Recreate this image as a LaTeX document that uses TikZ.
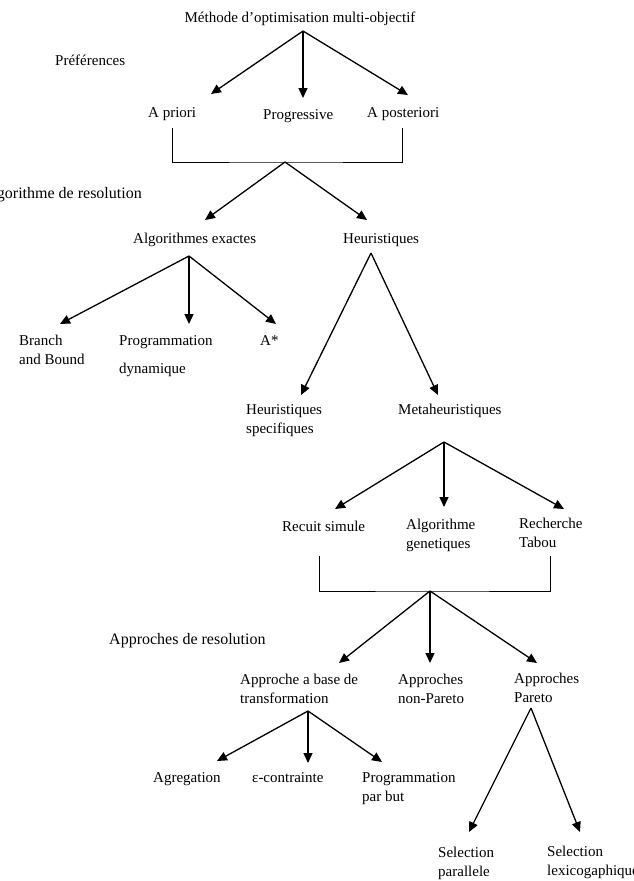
\documentclass[tikz,border=0pt]{standalone}
\usepackage{fontspec}
\setmainfont{Liberation Serif}
\usetikzlibrary{arrows.meta}
\newcommand\twoline[3][0pt]{\begin{tabular}[t]{@{}l@{}}#2\\[#1]#3\end{tabular}}
\tikzset{
  arr/.style={line width=1.3pt, -{Triangle[length=10pt,width=9pt]}},
  brk/.style={line width=0.9pt},
  lbl/.style={inner sep=0pt, anchor=base west, font=\fontsize{15}{19}\selectfont},
  big/.style={lbl, font=\fontsize{16}{20}\selectfont},
}
\begin{document}
\begin{tikzpicture}[x=1pt,y=-1pt]
\useasboundingbox (0,0) rectangle (633,881);
\fill[white] (0,0) rectangle (633,881);

% ---- labels ----
\node[lbl, anchor=base] (title) at (300,22.5) {Méthode d’optimisation multi-objectif};
\node[lbl] (pref) at (55,65) {Préférences};
\node[lbl] (apriori) at (148,117.5) {A priori};
\node[lbl] (progr) at (263,119) {Progressive};
\node[lbl] (apost) at (367,117.5) {A posteriori};
\node[big, anchor=base east] (algres) at (142,198) {Algorithme de resolution};
\node[lbl] (algex) at (133,243.5) {Algorithmes exactes};
\node[lbl] (heur) at (343,243.5) {Heuristiques};
\node[lbl] (bb) at (19,345) {\twoline{Branch}{and Bound}};
\node[lbl] (pdyn) at (119,345) {\twoline[9pt]{Programmation}{dynamique}};
\node[lbl] (astar) at (260,345) {A*};
\node[lbl] (hspec) at (246,414.5) {\twoline{Heuristiques}{specifiques}};
\node[lbl] (meta) at (398,414.5) {Metaheuristiques};
\node[lbl] (recuit) at (282,531) {Recuit simule};
\node[lbl] (genet) at (406,529.5) {\twoline{Algorithme}{genetiques}};
\node[lbl] (tabou) at (519,528.5) {\twoline{Recherche}{Tabou}};
\node[big] (appres) at (109,644.5) {Approches de resolution};
\node[lbl] (transf) at (240,684.5) {\twoline{Approche a base de}{transformation}};
\node[lbl] (nonpar) at (398,684.5) {\twoline{Approches}{non-Pareto}};
\node[lbl] (pareto) at (514,683.5) {\twoline{Approches}{Pareto}};
\node[lbl] (agreg) at (153,782.5) {Agregation};
\node[lbl] (econt) at (252,782.5) {ε-contrainte};
\node[lbl] (pbut) at (362,782.5) {\twoline{Programmation}{par but}};
\node[lbl] (selpar) at (438,857.5) {\twoline{Selection}{parallele}};
\node[lbl] (sellex) at (547,856.5) {\twoline{Selection}{lexicogaphique}};

% ---- connector points ----
\coordinate (r1) at (303,31);
\coordinate (t1a) at (211,94);
\coordinate (t1b) at (303,98);
\coordinate (t1c) at (408,95);

\coordinate (b1l) at (172,128);
\coordinate (b1j) at (285,162);
\coordinate (b1r) at (402,128);
\coordinate (t2a) at (205,220);
\coordinate (t2b) at (367,220);

\coordinate (r3) at (189,256);
\coordinate (t3a) at (60,324);
\coordinate (t3b) at (189,324);
\coordinate (t3c) at (276,324);

\coordinate (r4) at (371,253);
\coordinate (t4a) at (301,395);
\coordinate (t4b) at (438,395);

\coordinate (r5) at (444,442);
\coordinate (t5a) at (335,509);
\coordinate (t5b) at (444,507);
\coordinate (t5c) at (564,509);

\coordinate (b2l) at (319,556);
\coordinate (b2j) at (430,591);
\coordinate (b2r) at (550,556);
\coordinate (t6a) at (339,663);
\coordinate (t6b) at (430,663);
\coordinate (t6c) at (537,663);

\coordinate (r7) at (308,711);
\coordinate (t7a) at (217,761);
\coordinate (t7b) at (308,763);
\coordinate (t7c) at (382,762);

\coordinate (r8) at (531,708);
\coordinate (t8a) at (469,832);
\coordinate (t8b) at (580,832);

% ---- connectors ----
\draw[arr] (r1) -- (t1a);
\draw[arr] (r1) -- (t1b);
\draw[arr] (r1) -- (t1c);
\draw[brk] (b1l) |- (b1j) -| (b1r);
\draw[arr] (b1j) -- (t2a);
\draw[arr] (b1j) -- (t2b);
\draw[arr] (r3) -- (t3a);
\draw[arr] (r3) -- (t3b);
\draw[arr] (r3) -- (t3c);
\draw[arr] (r4) -- (t4a);
\draw[arr] (r4) -- (t4b);
\draw[arr] (r5) -- (t5a);
\draw[arr] (r5) -- (t5b);
\draw[arr] (r5) -- (t5c);
\draw[brk] (b2l) |- (b2j) -| (b2r);
\draw[arr] (b2j) -- (t6a);
\draw[arr] (b2j) -- (t6b);
\draw[arr] (b2j) -- (t6c);
\draw[arr] (r7) -- (t7a);
\draw[arr] (r7) -- (t7b);
\draw[arr] (r7) -- (t7c);
\draw[arr] (r8) -- (t8a);
\draw[arr] (r8) -- (t8b);
\end{tikzpicture}
\end{document}
